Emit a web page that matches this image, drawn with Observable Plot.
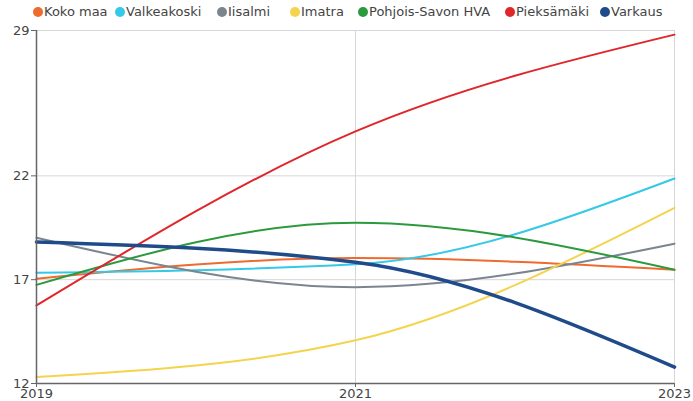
<!DOCTYPE html>
<html>
<head>
<meta charset="utf-8">
<script src="https://cdn.jsdelivr.net/npm/d3@7"></script>
<script src="https://cdn.jsdelivr.net/npm/@observablehq/plot@0.6"></script>
<style>
  body { margin: 0; background: #fff; font-family: "DejaVu Sans", sans-serif; }
  #legend { position: relative; height: 20px; width: 693px; font-size: 13px; color: #444; }
  .item { position: absolute; top: 4px; white-space: nowrap; line-height: 15px; }
  .dot { display: inline-block; width: 10px; height: 10px; border-radius: 50%; vertical-align: -1px; margin-right: 1px; }
</style>
</head>
<body>
<div id="legend"></div>
<div id="chart"></div>
<script>
const years = [2019, 2021, 2023];
const series = ["Koko maa", "Valkeakoski", "Iisalmi", "Imatra", "Pohjois-Savon HVA", "Pieksämäki", "Varkaus"];
const colors = ["#ef6a2f", "#34c9e6", "#7a8590", "#f4d44e", "#2b9a3e", "#e0262a", "#1f4b8a"];
const kokoMaa = [17.05, 18.04, 17.48];
const valkeakoski = [17.33, 17.74, 21.87];
const iisalmi = [19.02, 16.64, 18.73];
const imatra = [12.31, 14.08, 20.46];
const pohjoisSavo = [16.75, 19.74, 17.48];
const pieksamaki = [15.76, 24.14, 28.8];
const varkaus = [18.82, 17.84, 12.79];
const yTicks = [12, 17, 22, 29];

const values = [kokoMaa, valkeakoski, iisalmi, imatra, pohjoisSavo, pieksamaki, varkaus];
const data = [];
series.forEach((s, i) => years.forEach((y, j) => data.push({series: s, year: y, value: values[i][j]})));

// legend
const legendX = [33, 115, 217, 290, 358, 505, 600];
const legend = document.getElementById("legend");
series.forEach((s, i) => {
  const el = document.createElement("div");
  el.className = "item";
  el.style.left = legendX[i] + "px";
  el.innerHTML = `<span class="dot" style="background:${colors[i]}"></span>${s}`;
  legend.appendChild(el);
});

const chart = Plot.plot({
  width: 693,
  height: 381,
  marginTop: 10,
  marginLeft: 36,
  marginRight: 19,
  marginBottom: 18,
  style: {fontFamily: "DejaVu Sans, sans-serif", fontSize: "13px", color: "#444", background: "#fff"},
  x: {domain: [2019, 2023], label: null},
  y: {domain: [12, 29], label: null},
  color: {domain: series, range: colors},
  marks: [
    Plot.gridY(yTicks.slice(1), {stroke: "#d6d6d6", strokeOpacity: 1}),
    Plot.gridX([2021, 2023], {stroke: "#d6d6d6", strokeOpacity: 1}),
    Plot.lineY(data.filter(d => d.series !== "Varkaus"), {x: "year", y: "value", stroke: "series", curve: "monotone-x", strokeWidth: 2}),
    Plot.lineY(data.filter(d => d.series === "Varkaus"), {x: "year", y: "value", stroke: "series", curve: "monotone-x", strokeWidth: 3.5}),
    Plot.ruleX([2019], {stroke: "#666", strokeWidth: 1.5}),
    Plot.ruleY([12], {stroke: "#666", strokeWidth: 1.5}),
    Plot.axisY({ticks: yTicks, tickSize: 5, tickPadding: 2, stroke: "#666", fill: "#444", label: null}),
    Plot.axisX({ticks: years, tickFormat: d => String(d), tickSize: 4, tickPadding: 1, stroke: "#666", fill: "#444", label: null})
  ]
});
document.getElementById("chart").appendChild(chart);
</script>
</body>
</html>
